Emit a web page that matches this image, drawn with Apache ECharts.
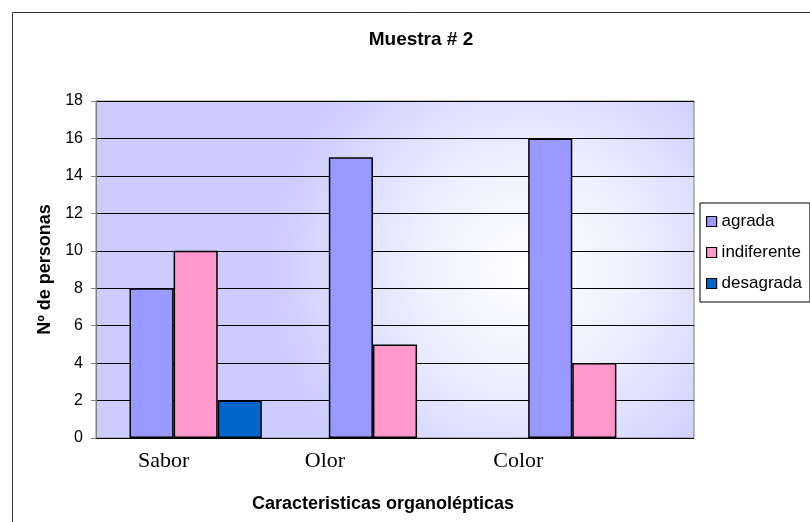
<!DOCTYPE html>
<html><head><meta charset="utf-8">
<script src="https://cdn.jsdelivr.net/npm/echarts@6/dist/echarts.min.js"></script>
<style>html,body{margin:0;padding:0;background:#fff}#c{width:810px;height:522px}</style>
</head><body><div id="c"></div>
<script>
const categories = ['Sabor', 'Olor', 'Color'];
const agrada = [8, 15, 16];
const indiferente = [10, 5, 4];
const desagrada = [2, 0, 0];
const yTicks = [0, 2, 4, 6, 8, 10, 12, 14, 16, 18];

const chart = echarts.init(document.getElementById('c'));
const labelShift = {Sabor: 64, Olor: 140, Color: 152};
const rich = {};
categories.forEach(c => { rich[c] = {fontFamily: 'Liberation Serif', fontSize: 22, color: '#000', padding: [0, labelShift[c], 0, 0]}; });
const barBorder = {borderColor: '#000', borderWidth: 1.5};
const toItems = arr => arr.map(v => v === 0 ? {value: 0, itemStyle: {borderWidth: 0}} : v);
chart.setOption({
  animation: false,
  backgroundColor: '#fff',
  title: {text: 'Muestra # 2', left: 416, textAlign: 'center', top: 25,
    textStyle: {fontFamily: 'Liberation Sans', fontSize: 19, fontWeight: 'bold', color: '#000'}},
  graphic: [{type: 'rect', shape: {x: 12.5, y: 12.5, width: 820, height: 530}, style: {fill: 'none', stroke: '#333', lineWidth: 1}, z: 100}],
  legend: {orient: 'vertical', left: 700, top: 203, padding: [10, 8, 10, 6], itemGap: 14, itemWidth: 10, itemHeight: 10,
    icon: 'rect',
    borderColor: '#000', borderWidth: 1, backgroundColor: '#fff',
    itemStyle: {borderColor: '#000', borderWidth: 1.2},
    textStyle: {fontFamily: 'Liberation Sans', fontSize: 17, color: '#000'},
    data: ['agrada', 'indiferente', 'desagrada']},
  grid: {left: 96, top: 101, width: 598, height: 337, show: true, borderColor: '#808080', borderWidth: 1,
    backgroundColor: {type: 'radial', x: 0.72, y: 0.5, r: 0.75,
      colorStops: [{offset: 0, color: '#ffffff'}, {offset: 0.45, color: '#eeeeff'}, {offset: 1, color: '#ccccff'}]}},
  xAxis: {type: 'category', data: categories,
    axisLine: {show: false}, axisTick: {show: false},
    axisLabel: {margin: 12, formatter: v => '{' + v + '|' + v + '}', rich: rich},
    name: 'Caracteristicas organolépticas', nameLocation: 'middle', nameGap: 57,
    nameTextStyle: {fontFamily: 'Liberation Sans', fontSize: 18, fontWeight: 'bold', color: '#000', padding: [0, 24, 0, 0]}},
  yAxis: {type: 'value', min: 0, max: 18, interval: 2,
    axisLine: {show: true, lineStyle: {color: '#808080'}},
    axisTick: {show: true, length: 5, lineStyle: {color: '#808080'}},
    axisLabel: {margin: 13, fontFamily: 'Liberation Sans', fontSize: 16, color: '#000',
      formatter: v => yTicks.includes(v) ? String(v) : ''},
    splitLine: {show: true, lineStyle: {color: '#000', width: 1}},
    name: 'Nº de personas', nameLocation: 'middle', nameGap: 40,
    nameTextStyle: {fontFamily: 'Liberation Sans', fontSize: 18, fontWeight: 'bold', color: '#000'}},
  series: [
    {name: 'agrada', type: 'bar', data: toItems(agrada), barGap: '0%', barCategoryGap: '33.6%', itemStyle: Object.assign({color: '#9999ff'}, barBorder)},
    {name: 'indiferente', type: 'bar', data: toItems(indiferente), itemStyle: Object.assign({color: '#ff99cc'}, barBorder)},
    {name: 'desagrada', type: 'bar', data: toItems(desagrada), itemStyle: Object.assign({color: '#0066cc'}, barBorder)}
  ]
});
</script></body></html>
